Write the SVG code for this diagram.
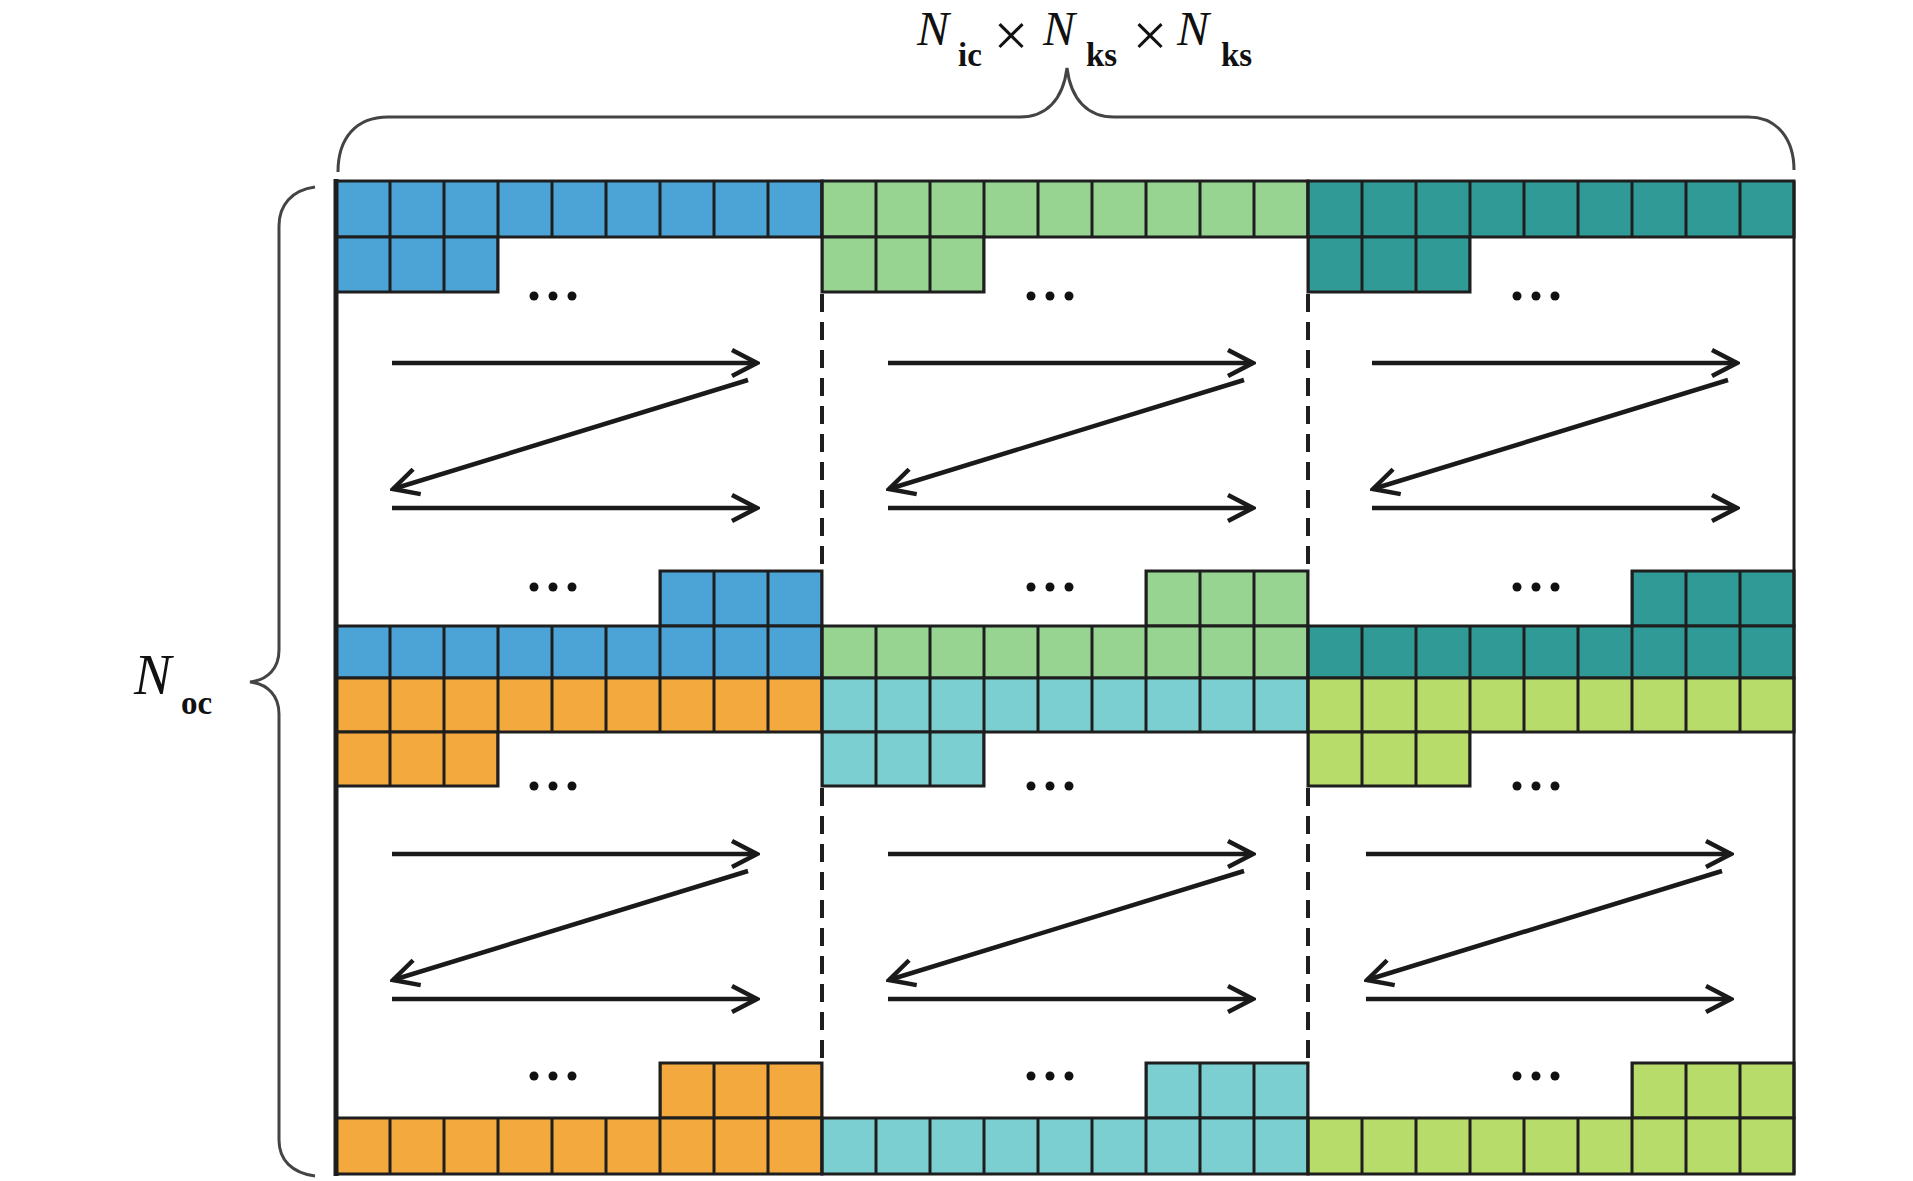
<svg xmlns="http://www.w3.org/2000/svg" width="1913" height="1181" viewBox="0 0 1913 1181">
<defs>
<style>
.row{stroke:#1e1e1e;stroke-width:3}
.arr{stroke:#1a1a1a;stroke-width:4.5;fill:none;marker-end:url(#ah)}
.dash{stroke:#1e1e1e;stroke-width:4;stroke-dasharray:18 10;fill:none}
.brace{stroke:#444;stroke-width:3;fill:none}
.dot{fill:#111}
.N{font-family:"Liberation Serif",serif;font-style:italic;font-size:48px;fill:#111}
.Noc{font-family:"Liberation Serif",serif;font-style:italic;font-size:56px;fill:#111}
.sub{font-family:"Liberation Serif",serif;font-weight:bold;font-size:33px;fill:#111}
.x{font-family:"Liberation Serif",serif;font-size:62px;fill:#111}
</style>
<pattern id="pBlue" patternUnits="userSpaceOnUse" x="336" y="0" width="54" height="1181"><rect width="54" height="1181" fill="#4ca3d5"/><line x1="0" y1="0" x2="0" y2="1181" stroke="#1e1e1e" stroke-width="3"/><line x1="54" y1="0" x2="54" y2="1181" stroke="#1e1e1e" stroke-width="3"/></pattern>
<pattern id="pGreen" patternUnits="userSpaceOnUse" x="336" y="0" width="54" height="1181"><rect width="54" height="1181" fill="#97d492"/><line x1="0" y1="0" x2="0" y2="1181" stroke="#1e1e1e" stroke-width="3"/><line x1="54" y1="0" x2="54" y2="1181" stroke="#1e1e1e" stroke-width="3"/></pattern>
<pattern id="pTeal" patternUnits="userSpaceOnUse" x="336" y="0" width="54" height="1181"><rect width="54" height="1181" fill="#2f9a96"/><line x1="0" y1="0" x2="0" y2="1181" stroke="#1e1e1e" stroke-width="3"/><line x1="54" y1="0" x2="54" y2="1181" stroke="#1e1e1e" stroke-width="3"/></pattern>
<pattern id="pOrange" patternUnits="userSpaceOnUse" x="336" y="0" width="54" height="1181"><rect width="54" height="1181" fill="#f3a93e"/><line x1="0" y1="0" x2="0" y2="1181" stroke="#1e1e1e" stroke-width="3"/><line x1="54" y1="0" x2="54" y2="1181" stroke="#1e1e1e" stroke-width="3"/></pattern>
<pattern id="pCyan" patternUnits="userSpaceOnUse" x="336" y="0" width="54" height="1181"><rect width="54" height="1181" fill="#7ccfd0"/><line x1="0" y1="0" x2="0" y2="1181" stroke="#1e1e1e" stroke-width="3"/><line x1="54" y1="0" x2="54" y2="1181" stroke="#1e1e1e" stroke-width="3"/></pattern>
<pattern id="pLime" patternUnits="userSpaceOnUse" x="336" y="0" width="54" height="1181"><rect width="54" height="1181" fill="#b8dc6a"/><line x1="0" y1="0" x2="0" y2="1181" stroke="#1e1e1e" stroke-width="3"/><line x1="54" y1="0" x2="54" y2="1181" stroke="#1e1e1e" stroke-width="3"/></pattern>
<marker id="ah" viewBox="0 0 32 32" refX="29" refY="16" markerWidth="32" markerHeight="32" markerUnits="userSpaceOnUse" orient="auto"><path d="M4,3 L29,16 L4,29" fill="none" stroke="#1a1a1a" stroke-width="4.5" stroke-linejoin="miter"/></marker>
</defs>
<rect width="1913" height="1181" fill="#fff"/>

<g id="frame">
<line x1="1794" y1="181" x2="1794" y2="1174" stroke="#1e1e1e" stroke-width="3"/>
</g>

<g id="section1">
<rect class="row" x="336" y="181" width="486" height="56" fill="url(#pBlue)"/>
<rect class="row" x="336" y="237" width="162" height="55" fill="url(#pBlue)"/>
<rect class="row" x="660" y="571" width="162" height="55" fill="url(#pBlue)"/>
<rect class="row" x="336" y="626" width="486" height="52" fill="url(#pBlue)"/>
<rect class="row" x="336" y="678" width="486" height="54" fill="url(#pOrange)"/>
<rect class="row" x="336" y="732" width="162" height="54" fill="url(#pOrange)"/>
<rect class="row" x="660" y="1063" width="162" height="55" fill="url(#pOrange)"/>
<rect class="row" x="336" y="1118" width="486" height="56" fill="url(#pOrange)"/>
</g>

<g id="section2">
<rect class="row" x="822" y="181" width="486" height="56" fill="url(#pGreen)"/>
<rect class="row" x="822" y="237" width="162" height="55" fill="url(#pGreen)"/>
<rect class="row" x="1146" y="571" width="162" height="55" fill="url(#pGreen)"/>
<rect class="row" x="822" y="626" width="486" height="52" fill="url(#pGreen)"/>
<rect class="row" x="822" y="678" width="486" height="54" fill="url(#pCyan)"/>
<rect class="row" x="822" y="732" width="162" height="54" fill="url(#pCyan)"/>
<rect class="row" x="1146" y="1063" width="162" height="55" fill="url(#pCyan)"/>
<rect class="row" x="822" y="1118" width="486" height="56" fill="url(#pCyan)"/>
</g>

<g id="section3">
<rect class="row" x="1308" y="181" width="486" height="56" fill="url(#pTeal)"/>
<rect class="row" x="1308" y="237" width="162" height="55" fill="url(#pTeal)"/>
<rect class="row" x="1632" y="571" width="162" height="55" fill="url(#pTeal)"/>
<rect class="row" x="1308" y="626" width="486" height="52" fill="url(#pTeal)"/>
<rect class="row" x="1308" y="678" width="486" height="54" fill="url(#pLime)"/>
<rect class="row" x="1308" y="732" width="162" height="54" fill="url(#pLime)"/>
<rect class="row" x="1632" y="1063" width="162" height="55" fill="url(#pLime)"/>
<rect class="row" x="1308" y="1118" width="486" height="56" fill="url(#pLime)"/>
</g>

<g id="left-border">
<line x1="336" y1="179" x2="336" y2="1176" stroke="#1e1e1e" stroke-width="5"/>
</g>

<g id="dividers">
<line class="dash" x1="822" y1="294" x2="822" y2="571"/>
<line class="dash" x1="822" y1="788" x2="822" y2="1063"/>
<line class="dash" x1="1308" y1="294" x2="1308" y2="571"/>
<line class="dash" x1="1308" y1="788" x2="1308" y2="1063"/>
</g>

<g id="dots">
<circle class="dot" cx="534" cy="296" r="4.5"/><circle class="dot" cx="553" cy="296" r="4.5"/><circle class="dot" cx="572" cy="296" r="4.5"/>
<circle class="dot" cx="1031" cy="296" r="4.5"/><circle class="dot" cx="1050" cy="296" r="4.5"/><circle class="dot" cx="1069" cy="296" r="4.5"/>
<circle class="dot" cx="1517" cy="296" r="4.5"/><circle class="dot" cx="1536" cy="296" r="4.5"/><circle class="dot" cx="1555" cy="296" r="4.5"/>
<circle class="dot" cx="534" cy="587" r="4.5"/><circle class="dot" cx="553" cy="587" r="4.5"/><circle class="dot" cx="572" cy="587" r="4.5"/>
<circle class="dot" cx="1031" cy="587" r="4.5"/><circle class="dot" cx="1050" cy="587" r="4.5"/><circle class="dot" cx="1069" cy="587" r="4.5"/>
<circle class="dot" cx="1517" cy="587" r="4.5"/><circle class="dot" cx="1536" cy="587" r="4.5"/><circle class="dot" cx="1555" cy="587" r="4.5"/>
<circle class="dot" cx="534" cy="786" r="4.5"/><circle class="dot" cx="553" cy="786" r="4.5"/><circle class="dot" cx="572" cy="786" r="4.5"/>
<circle class="dot" cx="1031" cy="786" r="4.5"/><circle class="dot" cx="1050" cy="786" r="4.5"/><circle class="dot" cx="1069" cy="786" r="4.5"/>
<circle class="dot" cx="1517" cy="786" r="4.5"/><circle class="dot" cx="1536" cy="786" r="4.5"/><circle class="dot" cx="1555" cy="786" r="4.5"/>
<circle class="dot" cx="534" cy="1076" r="4.5"/><circle class="dot" cx="553" cy="1076" r="4.5"/><circle class="dot" cx="572" cy="1076" r="4.5"/>
<circle class="dot" cx="1031" cy="1076" r="4.5"/><circle class="dot" cx="1050" cy="1076" r="4.5"/><circle class="dot" cx="1069" cy="1076" r="4.5"/>
<circle class="dot" cx="1517" cy="1076" r="4.5"/><circle class="dot" cx="1536" cy="1076" r="4.5"/><circle class="dot" cx="1555" cy="1076" r="4.5"/>
</g>

<g id="connectors">
<line class="arr" x1="392" y1="363" x2="757" y2="363"/>
<line class="arr" x1="748" y1="380" x2="393" y2="489"/>
<line class="arr" x1="392" y1="508" x2="757" y2="508"/>
<line class="arr" x1="888" y1="363" x2="1253" y2="363"/>
<line class="arr" x1="1244" y1="380" x2="889" y2="489"/>
<line class="arr" x1="888" y1="508" x2="1253" y2="508"/>
<line class="arr" x1="1372" y1="363" x2="1737" y2="363"/>
<line class="arr" x1="1728" y1="380" x2="1373" y2="489"/>
<line class="arr" x1="1372" y1="508" x2="1737" y2="508"/>
<line class="arr" x1="392" y1="854" x2="757" y2="854"/>
<line class="arr" x1="748" y1="871" x2="393" y2="980"/>
<line class="arr" x1="392" y1="999" x2="757" y2="999"/>
<line class="arr" x1="888" y1="854" x2="1253" y2="854"/>
<line class="arr" x1="1244" y1="871" x2="889" y2="980"/>
<line class="arr" x1="888" y1="999" x2="1253" y2="999"/>
<line class="arr" x1="1366" y1="854" x2="1731" y2="854"/>
<line class="arr" x1="1722" y1="871" x2="1367" y2="980"/>
<line class="arr" x1="1366" y1="999" x2="1731" y2="999"/>
</g>

<g id="top-brace">
<path class="brace" d="M338,172 C338,138 356,117 388,117 L1020,117 C1046,117 1063,100 1067,68 C1071,100 1088,117 1114,117 L1748,117 C1778,117 1794,140 1794,170"/>
<text class="N" x="917" y="45">N</text>
<text class="sub" x="958" y="66">ic</text>
<text class="x" x="1011" y="56" text-anchor="middle">×</text>
<text class="N" x="1043" y="45">N</text>
<text class="sub" x="1086" y="66">ks</text>
<text class="x" x="1150" y="56" text-anchor="middle">×</text>
<text class="N" x="1177" y="45">N</text>
<text class="sub" x="1221" y="66">ks</text>
</g>

<g id="left-brace">
<path class="brace" d="M315,187 C292,190 279,205 279,226 L279,650 C279,668 268,680 250,682 C268,684 279,696 279,714 L279,1140 C279,1160 292,1173 315,1176"/>
<text class="Noc" x="134" y="694">N</text>
<text class="sub" x="181" y="714">oc</text>
</g>
</svg>
